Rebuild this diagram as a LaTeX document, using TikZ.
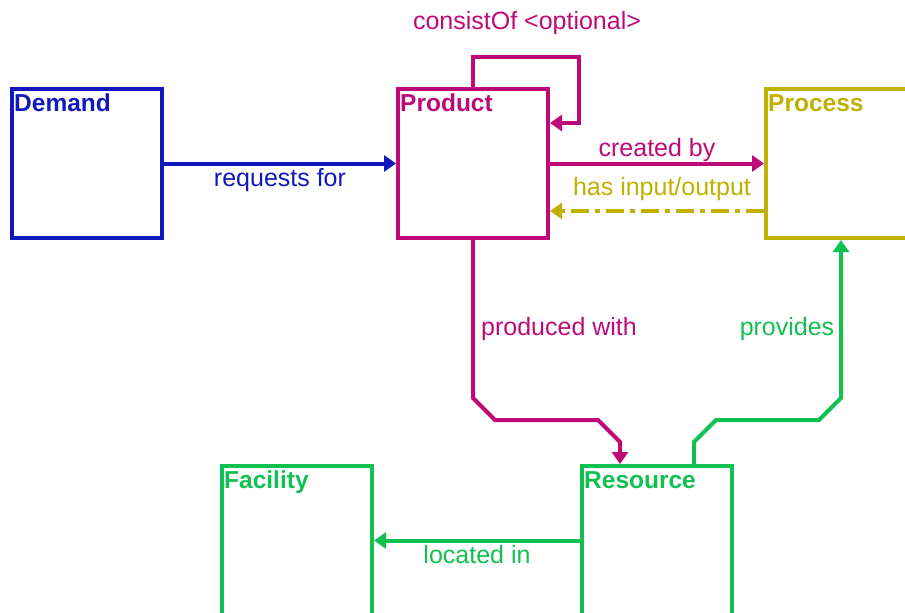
\documentclass[tikz,border=0pt]{standalone}
\usepackage{fontspec}
\setmainfont{Liberation Sans}
\usetikzlibrary{arrows.meta,calc}
\definecolor{cdem}{RGB}{16,24,190}
\definecolor{cprod}{RGB}{190,10,120}
\definecolor{cproc}{RGB}{192,176,0}
\definecolor{cres}{RGB}{16,192,80}
\begin{document}
\begin{tikzpicture}[x=1pt,y=-1pt,
  entity/.style={draw, line width=4pt, minimum width=150pt, minimum height=149pt, inner sep=0pt},
  title/.style={anchor=base west, font=\fontsize{24.5}{28}\selectfont\bfseries, inner sep=0pt},
  lab/.style={anchor=base, font=\fontsize{25}{29}\selectfont, inner sep=0pt},
  conn/.style={line width=4pt, -{Triangle[length=12pt,width=16pt]}},
]
\path[use as bounding box, clip] (0,0) rectangle (905,613);

% entity boxes
\node[entity, cdem]  (dem)  at (87,163.5)  {};
\node[entity, cprod] (prod) at (473,163.5) {};
\node[entity, cproc] (proc) at (841,163.5) {};
\node[entity, cres]  (fac)  at (297,540.5) {};
\node[entity, cres]  (res)  at (657,540.5) {};

% entity titles
\node[title, text=cdem]  (tdem)  at ($(dem.north west)+(4,24)$)  {Demand};
\node[title, text=cprod] (tprod) at ($(prod.north west)+(4,24)$) {Product};
\node[title, text=cproc] (tproc) at ($(proc.north west)+(4,24)$) {Process};
\node[title, text=cres]  (tfac)  at ($(fac.north west)+(4,24)$)  {Facility};
\node[title, text=cres]  (tres)  at ($(res.north west)+(4,24)$)  {Resource};

% docking points on the resource box
\coordinate (rin)  at ($(res.north)+(-37,0)$);
\coordinate (rout) at ($(res.north)+(37,0)$);

% relations
\draw[conn, cdem] (dem.east) -- (prod.west);
\node[lab, text=cdem] (lreq) at (280,186) {requests for};

\draw[conn, cprod] (prod.north) |- (579,57) |- ($(prod.east)+(0,-40.5)$);
\node[lab, text=cprod] (lcons) at (527,29) {consistOf <optional>};

\draw[conn, cprod] (prod.east) -- (proc.west);
\node[lab, text=cprod] (lcre) at (657,156) {created by};

\draw[conn, cproc, dash pattern=on 18pt off 6pt on 5pt off 6pt]
  ($(proc.west)+(0,47.5)$) -- ($(prod.east)+(0,47.5)$);
\node[lab, text=cproc] (lio) at (662,195) {has input/output};

\draw[conn, cprod, line join=miter] (prod.south) -- (473,398) -- (495,420) -- (598,420) -- (620,442) -- (rin);
\node[lab, text=cprod] (lprod) at (559,335) {produced with};

\draw[conn, cres, line join=miter] (rout) -- (694,442) -- (716,420) -- (819,420) -- (841,398) -- (proc.south);
\node[lab, text=cres] (lprov) at (787,335) {provides};

\draw[conn, cres] (res.west) -- (fac.east);
\node[lab, text=cres] (lloc) at (477,563) {located in};
\end{tikzpicture}
\end{document}
